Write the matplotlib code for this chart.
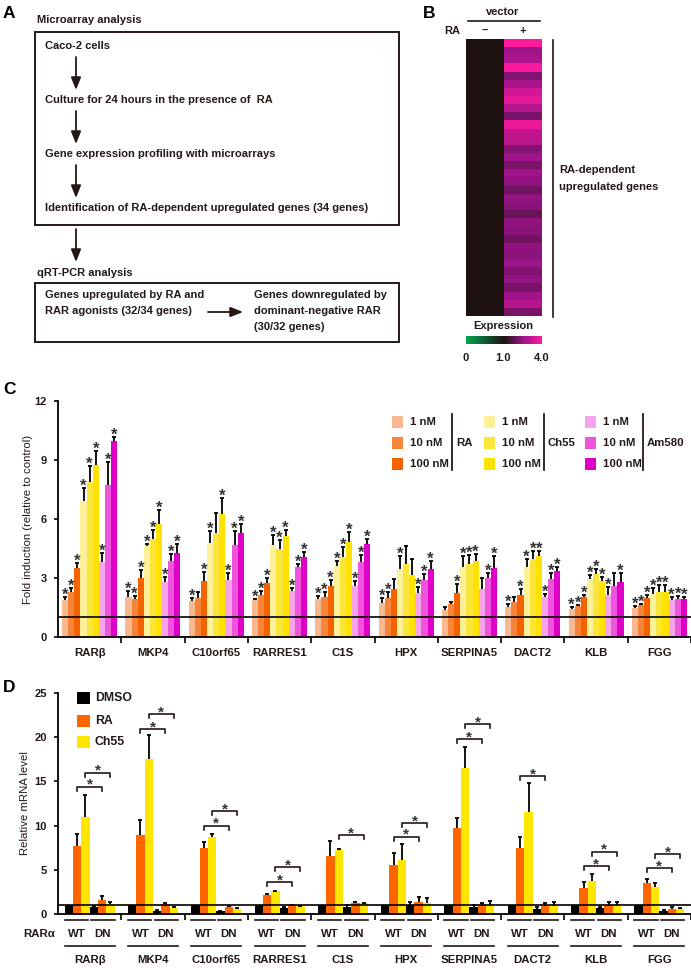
import numpy as np
import matplotlib
matplotlib.use("Agg")
import matplotlib.pyplot as plt
from matplotlib import transforms
from matplotlib.colors import LinearSegmentedColormap, TwoSlopeNorm
from matplotlib.patches import Rectangle

plt.rcParams['font.family'] = ['Liberation Sans', 'DejaVu Sans']
TXT = '#231815'

# ---------------- data ----------------
# panel B: microarray expression (RA -, RA +), 34 genes
heat_minus = [1.0, 1.0, 1.0, 1.0, 1.0, 1.0, 1.0, 1.0, 1.0, 1.0, 1.0, 1.0,
              1.0, 1.0, 1.0, 1.0, 1.0, 1.0, 1.0, 1.0, 1.0, 1.0, 1.0, 1.0,
              1.0, 1.0, 1.0, 1.0, 1.0, 1.0, 1.0, 1.0, 1.0, 1.0]
heat_plus = [4.0, 2.6, 2.8, 3.9, 2.2, 2.7, 3.3, 3.6, 2.9, 2.1, 3.7, 3.1,
             3.0, 2.2, 2.6, 2.1, 2.6, 2.4, 2.0, 2.4, 2.3, 1.9, 2.4, 2.3,
             2.0, 2.4, 2.3, 2.5, 2.2, 2.4, 2.1, 2.6, 2.9, 2.1]

genes = ['RARβ', 'MKP4', 'C10orf65', 'RARRES1', 'C1S', 'HPX', 'SERPINA5',
         'DACT2', 'KLB', 'FGG']

# panel C: fold induction
ra_1 = [1.90, 2.05, 1.83, 1.90, 1.95, 1.75, 1.36, 1.54, 1.41, 1.49]
ra_10 = [2.27, 1.95, 2.00, 2.15, 2.03, 1.98, 1.68, 1.78, 1.58, 1.64]
ra_100 = [3.50, 3.02, 2.85, 2.75, 2.58, 2.42, 2.22, 2.15, 2.03, 2.00]
ch_1 = [6.93, 4.61, 4.78, 4.69, 3.59, 3.47, 3.58, 3.58, 2.95, 2.19]
ch_10 = [7.88, 4.98, 5.29, 4.49, 4.05, 3.69, 3.71, 3.95, 3.19, 2.29]
ch_100 = [8.73, 5.76, 6.27, 5.15, 4.83, 3.14, 3.86, 4.14, 2.85, 2.29]
am_1 = [3.80, 2.80, 2.92, 2.32, 2.58, 2.22, 2.42, 2.02, 2.15, 1.88]
am_10 = [7.75, 3.85, 4.66, 3.54, 3.81, 2.90, 3.00, 2.93, 2.59, 1.93]
am_100 = [9.95, 4.27, 5.29, 4.05, 4.75, 3.44, 3.53, 3.36, 2.81, 1.93]

ra_1_sd = [0.13, 0.31, 0.17, 0.03, 0.12, 0.25, 0.18, 0.14, 0.10, 0.07]
ra_10_sd = [0.23, 0.12, 0.30, 0.19, 0.27, 0.31, 0.12, 0.24, 0.06, 0.05]
ra_100_sd = [0.26, 0.40, 0.44, 0.25, 0.34, 0.51, 0.47, 0.29, 0.12, 0.14]
ch_1_sd = [0.63, 0.14, 0.61, 0.48, 0.26, 0.65, 0.54, 0.37, 0.22, 0.28]
ch_10_sd = [0.83, 0.48, 1.01, 0.43, 0.51, 0.94, 0.44, 0.41, 0.25, 0.37]
ch_100_sd = [0.74, 0.68, 0.81, 0.31, 0.49, 0.83, 0.34, 0.25, 0.18, 0.37]
am_1_sd = [0.45, 0.23, 0.33, 0.17, 0.28, 0.31, 0.56, 0.15, 0.38, 0.17]
am_10_sd = [1.13, 0.37, 0.75, 0.19, 0.38, 0.32, 0.24, 0.34, 0.68, 0.14]
am_100_sd = [0.20, 0.46, 0.46, 0.26, 0.25, 0.44, 0.59, 0.22, 0.43, 0.12]

# significance per gene, order RA 1/10/100, Ch55 1/10/100, Am580 1/10/100
stars_c = ['111111111', '111111111', '101101111', '111111111', '111111111',
           '110100111', '001111011', '101111111', '111111101', '111111111']

conc_labels = ['1 nM', '10 nM', '100 nM']
compounds = ['RA', 'Ch55', 'Am580']
ra_colors = ['#f8b990', '#f5853a', '#f46300']
ch_colors = ['#fdf09a', '#fae63a', '#ffe200']
am_colors = ['#f5a3ea', '#ee55dc', '#df00c8']

# panel D: relative mRNA level, RARa WT / DN
dmso_wt = [1.0, 1.0, 1.0, 1.0, 1.0, 1.0, 1.0, 1.0, 1.0, 1.0]
ra_wt = [7.69, 8.90, 7.50, 2.19, 6.60, 5.50, 9.70, 7.47, 2.94, 3.47]
ch_wt = [11.0, 17.53, 8.75, 2.56, 7.24, 6.10, 16.5, 11.5, 3.77, 3.09]
dmso_dn = [0.83, 0.38, 0.30, 0.68, 0.83, 1.02, 0.83, 0.60, 0.72, 0.38]
ra_dn = [1.62, 1.17, 0.83, 1.02, 1.28, 1.36, 0.98, 0.90, 1.02, 0.60]
ch_dn = [1.09, 0.64, 0.60, 0.90, 1.20, 1.20, 0.98, 0.90, 0.98, 0.53]

dmso_wt_sd = [0, 0, 0, 0, 0, 0, 0, 0, 0, 0]
ra_wt_sd = [1.36, 1.73, 0.60, 0.11, 1.70, 1.36, 1.20, 1.28, 0.64, 0.49]
ch_wt_sd = [2.50, 2.72, 0.35, 0.08, 0.15, 1.78, 2.40, 3.36, 0.75, 0.41]
dmso_dn_sd = [0.05, 0.03, 0.03, 0.07, 0.17, 0.38, 0.17, 0.23, 0.11, 0.07]
ra_dn_sd = [0.38, 0.11, 0.05, 0.03, 0.08, 0.54, 0.30, 0.38, 0.30, 0.15]
ch_dn_sd = [0.31, 0.16, 0.04, 0.04, 0.08, 0.60, 0.45, 0.50, 0.34, 0.11]

ra_bracket = [14.4, 20.9, 10.0, 3.6, None, 8.75, 19.8, 15.6, 5.43, 5.17]
ch_bracket = [16.0, 22.6, 11.6, 5.3, 8.94, 10.3, 21.5, None, 7.05, 6.8]

d_labels = ['DMSO', 'RA', 'Ch55']
d_colors = ['#000000', '#ff6600', '#ffe600']

# ---------------- figure ----------------
W, H = 691, 968
fig = plt.figure(figsize=(W / 100, H / 100), dpi=100)


def box(x0, y0, x1, y1):
    return [x0 / W, 1 - y1 / H, (x1 - x0) / W, (y1 - y0) / H]


canvas = fig.add_axes([0, 0, 1, 1], zorder=10)
canvas.set_xlim(0, W)
canvas.set_ylim(H, 0)
canvas.axis('off')
canvas.patch.set_alpha(0)


def txt(x, y, s, size=8, weight='bold', ha='left', va='center', **kw):
    canvas.text(x, y, s, fontsize=size, fontweight=weight, ha=ha, va=va,
                color=TXT, **kw)


def arrow(x0, y0, x1, y1):
    canvas.annotate('', xy=(x1, y1), xytext=(x0, y0),
                    arrowprops=dict(arrowstyle='-|>,head_length=0.75,head_width=0.3',
                                    color=TXT, lw=1.3, shrinkA=0, shrinkB=0,
                                    mutation_scale=10))


# panel letters
for lab, (x, y) in zip('ABCD', [(3, 13), (423, 13), (3, 390), (3, 688)]):
    canvas.text(x, y, lab, fontsize=12.5, fontweight='bold', ha='left',
                va='center', color='black')

# ---------------- panel A ----------------
txt(37, 20, 'Microarray analysis')
canvas.add_patch(Rectangle((35, 32), 364, 193, fill=False, ec=TXT, lw=1.4))
txt(45, 46, 'Caco-2 cells')
arrow(76, 57, 76, 90)
txt(45, 100, 'Culture for 24 hours in the presence of  RA')
arrow(76, 111, 76, 144)
txt(45, 154, 'Gene expression profiling with microarrays')
arrow(76, 165, 76, 198)
txt(45, 208, 'Identification of RA-dependent upregulated genes (34 genes)')
arrow(76, 229, 76, 262)
txt(37, 273, 'qRT-PCR analysis')
canvas.add_patch(Rectangle((35, 283), 364, 59, fill=False, ec=TXT, lw=1.4))
txt(45, 295, 'Genes upregulated by RA and')
txt(45, 311, 'RAR agonists (32/34 genes)')
arrow(208, 312, 243, 312)
txt(254, 295, 'Genes downregulated by')
txt(254, 311, 'dominant-negative RAR')
txt(254, 327, '(30/32 genes)')

# ---------------- panel B ----------------
cmap = LinearSegmentedColormap.from_list(
    'expr', [(0.0, '#00a651'), (0.5, '#1e1210'), (0.75, '#9a1488'), (1.0, '#ff1a9e')])
norm = TwoSlopeNorm(vmin=0, vcenter=1.0, vmax=4.0)
axB = fig.add_axes(box(466, 39, 542, 316))
im = axB.imshow(np.column_stack([heat_minus, heat_plus]), cmap=cmap, norm=norm,
                aspect='auto', interpolation='nearest')
axB.axis('off')
txt(503, 12, 'vector', ha='center')
canvas.plot([468, 540], [21, 21], color=TXT, lw=1.2)
txt(452, 31, 'RA', ha='center')
txt(485, 31, '–', ha='center')
txt(523, 31, '+', ha='center')
canvas.plot([553, 553], [40, 317], color=TXT, lw=1.2)
txt(559, 170, 'RA-dependent')
txt(559, 187, 'upregulated genes')
txt(503, 326, 'Expression', ha='center')
cax = fig.add_axes(box(466, 336, 542, 344))
cb = fig.colorbar(im, cax=cax, orientation='horizontal')
cb.set_ticks([])
cb.outline.set_visible(False)
txt(466, 358, '0', ha='center')
txt(503, 358, '1.0', ha='center')
txt(542, 358, '4.0', ha='center')


def style_axes(ax, yticks):
    for s in ['top', 'right']:
        ax.spines[s].set_visible(False)
    for s in ['left', 'bottom']:
        ax.spines[s].set_linewidth(1.3)
    ax.set_xlim(-0.5, 9.5)
    ax.set_yticks(yticks)
    ax.set_yticklabels([str(v) for v in yticks], fontweight='bold', fontsize=8,
                       color=TXT)
    ax.tick_params(axis='y', length=3, width=1.2, pad=5)
    ax.set_xticks(np.arange(0.5, 10, 1), minor=True)
    ax.tick_params(axis='x', which='minor', length=4, width=1.2)
    ax.axhline(1, color='black', lw=1.2, zorder=4)


def err_up(ax, xs, vals, sds):
    xs = np.asarray(xs, float)
    vals = np.asarray(vals, float)
    sds = np.asarray(sds, float)
    m = sds > 0
    ax.vlines(xs[m], vals[m], vals[m] + sds[m], color='black', lw=1.3, zorder=3)
    ax.plot(xs[m], vals[m] + sds[m], ls='none', marker='_', ms=3, mew=1.3,
            color='black', zorder=3)


def star(ax, x, y, size=12, dy=-2.0):
    ax.annotate('*', (x, y), xytext=(0, dy), textcoords='offset points',
                ha='center', va='baseline', fontsize=size, fontweight='bold',
                color='#333333', annotation_clip=False)


# ---------------- panel C ----------------
axC = fig.add_axes(box(58, 401, 691, 637))
xg = np.arange(len(genes))
wc = 0.0966
series_c = [ra_1, ra_10, ra_100, ch_1, ch_10, ch_100, am_1, am_10, am_100]
sds_c = [ra_1_sd, ra_10_sd, ra_100_sd, ch_1_sd, ch_10_sd, ch_100_sd,
         am_1_sd, am_10_sd, am_100_sd]
colors_c = ra_colors + ch_colors + am_colors
for j, (vals, sds, col) in enumerate(zip(series_c, sds_c, colors_c)):
    xs = xg + (j - 4) * wc
    axC.bar(xs, vals, wc, color=col, lw=0, zorder=2)
    err_up(axC, xs, vals, sds)
    for i in range(len(genes)):
        if stars_c[i][j] == '1':
            star(axC, xs[i], vals[i] + sds[i])
axC.set_ylim(0, 12)
style_axes(axC, [0, 3, 6, 9, 12])
axC.set_xticks(xg)
axC.set_xticklabels(genes, fontweight='bold', fontsize=8.2, color=TXT)
axC.tick_params(axis='x', which='major', length=0, pad=8)
axC.set_ylabel('Fold induction (relative to control)', fontsize=8.2, color=TXT,
               labelpad=1)

# legend C (drawn by hand: three grouped columns)
leg_x = [392, 484, 585]
leg_y = [422, 443, 464]
for cx, cols, comp in zip(leg_x, [ra_colors, ch_colors, am_colors], compounds):
    for cy, col, lab in zip(leg_y, cols, conc_labels):
        canvas.add_patch(Rectangle((cx, cy - 6), 11, 12, color=col, lw=0))
        txt(cx + 18, cy, lab, size=8.2)
    lx = cx + 60 if comp != 'Am580' else cx + 58
    canvas.plot([lx, lx], [414, 470], color=TXT, lw=1.3)
    txt(lx + 4, leg_y[1], comp, size=8.2)

# ---------------- panel D ----------------
axD = fig.add_axes(box(58, 693, 691, 914))
wd = 0.1316
series_d = [dmso_wt, ra_wt, ch_wt, dmso_dn, ra_dn, ch_dn]
sds_d = [dmso_wt_sd, ra_wt_sd, ch_wt_sd, dmso_dn_sd, ra_dn_sd, ch_dn_sd]
colors_d = d_colors + d_colors
for j, (vals, sds, col) in enumerate(zip(series_d, sds_d, colors_d)):
    xs = xg + (j - 2.5) * wd
    axD.bar(xs, vals, wd, color=col, lw=0, zorder=2)
    err_up(axD, xs, vals, sds)

for i in range(len(genes)):
    for h, k0, k1 in [(ra_bracket[i], 1, 4), (ch_bracket[i], 2, 5)]:
        if h is None:
            continue
        x0 = i + (k0 - 2.5) * wd
        x1 = i + (k1 - 2.5) * wd
        axD.plot([x0, x0, x1, x1], [h - 0.45, h, h, h - 0.45], color=TXT, lw=1.2,
                 zorder=3)
        star(axD, (x0 + x1) / 2, h, size=11, dy=-1.6)

axD.set_ylim(0, 25)
style_axes(axD, [0, 5, 10, 15, 20, 25])
axD.set_xticks([])
axD.set_ylabel('Relative mRNA level', fontsize=8.2, color=TXT, labelpad=3)

# legend D
for cy, col, lab in zip([698, 721, 742], d_colors, d_labels):
    canvas.add_patch(Rectangle((77, cy - 6), 13, 12, color=col, lw=0))
    txt(95, cy, lab, size=8.8)

# WT / DN annotation under the axis
tr = transforms.blended_transform_factory(axD.transData, canvas.transData)
txt(55, 934, 'RARα', ha='right', size=8.2)
for i, g in enumerate(genes):
    canvas.plot([i - 3 * wd, i - 0.2 * wd], [920, 920], color=TXT, lw=1.2,
                transform=tr, clip_on=False)
    canvas.plot([i + 0.2 * wd, i + 3 * wd], [920, 920], color=TXT, lw=1.2,
                transform=tr, clip_on=False)
    canvas.plot([i - 3 * wd, i + 3 * wd], [946, 946], color=TXT, lw=1.2,
                transform=tr, clip_on=False)
    canvas.text(i - 1.5 * wd, 934, 'WT', transform=tr, ha='center', va='center',
                fontsize=8.2, fontweight='bold', color=TXT)
    canvas.text(i + 1.5 * wd, 934, 'DN', transform=tr, ha='center', va='center',
                fontsize=8.2, fontweight='bold', color=TXT)
    canvas.text(i, 960, g, transform=tr, ha='center', va='center',
                fontsize=8.2, fontweight='bold', color=TXT)

fig.savefig('out.png', dpi=100)
